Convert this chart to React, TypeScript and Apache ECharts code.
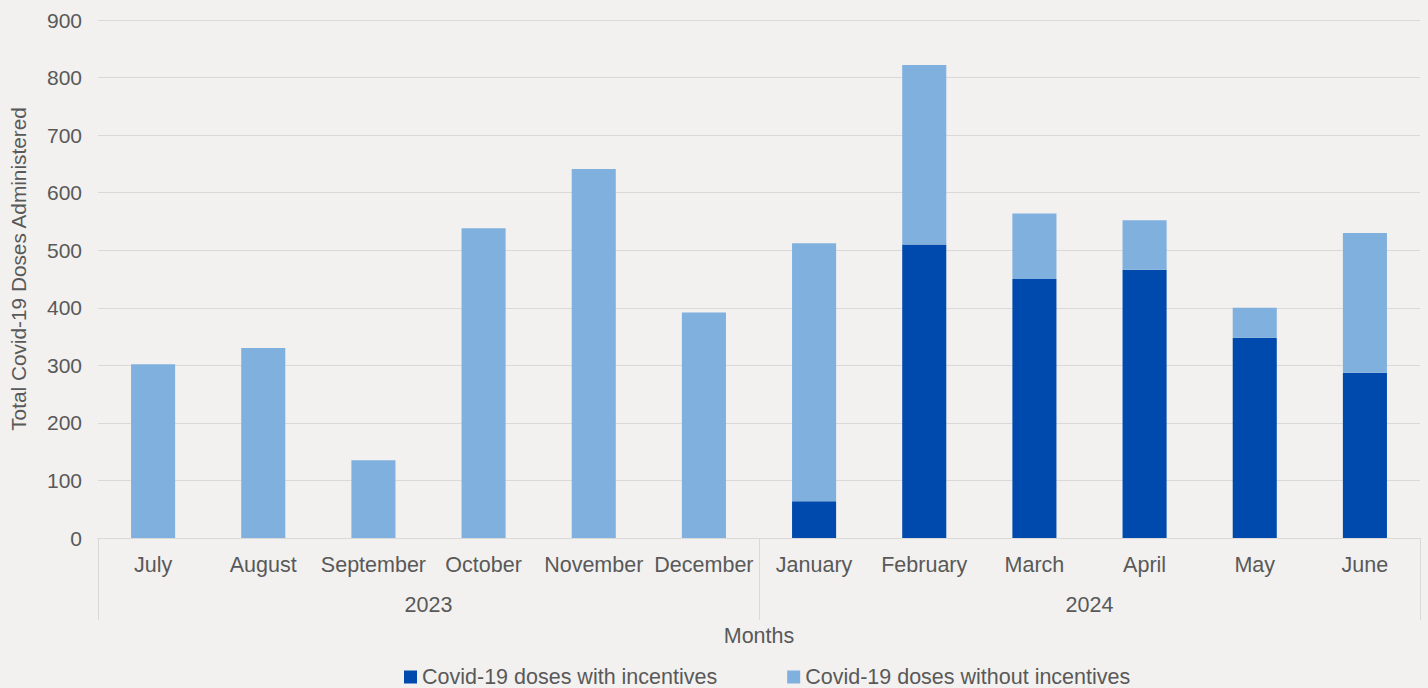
import React, { useEffect, useRef } from "react";
import * as echarts from "echarts";

const months = ["July", "August", "September", "October", "November", "December", "January", "February", "March", "April", "May", "June"];
const years = ["2023", "2024"];
const withIncentives = [0, 0, 0, 0, 0, 0, 64, 510, 450, 466, 348, 287];
const withoutIncentives = [302, 330, 135, 538, 641, 392, 448, 312, 114, 86, 52, 243];
const yTicks = { min: 0, max: 900, interval: 100 };

const FONT = "'Liberation Sans', Arial, sans-serif";
const TEXT = "#595959";
const GRID = "#d9d9d9";
const FS = 21.5;

export default function App() {
  const ref = useRef<HTMLDivElement>(null);
  useEffect(() => {
    if (!ref.current) return;
    const chart = echarts.init(ref.current, undefined, { renderer: "svg" });
    chart.setOption({
      animation: false,
      backgroundColor: "#f2f1ef",
      textStyle: { fontFamily: FONT, color: TEXT },
      grid: { left: 98, right: 8, top: 20, bottom: 150, containLabel: false },
      legend: {
        top: 661,
        left: 399,
        icon: "rect",
        itemWidth: 13,
        itemHeight: 13,
        itemGap: 70,
        textStyle: { fontFamily: FONT, fontSize: FS, color: TEXT },
        data: ["Covid-19 doses with incentives", "Covid-19 doses without incentives"],
      },
      xAxis: [
        {
          type: "category",
          data: months,
          axisLine: { show: true, lineStyle: { color: GRID } },
          axisTick: { show: false },
          axisLabel: { fontFamily: FONT, fontSize: FS, color: TEXT, margin: 16, interval: 0 },
        },
        {
          type: "category",
          data: years,
          position: "bottom",
          axisLine: { show: true, lineStyle: { color: GRID } },
          axisTick: { show: true, length: 82, lineStyle: { color: GRID } },
          axisLabel: { fontFamily: FONT, fontSize: FS, color: TEXT, margin: 56 },
          name: "Months",
          nameLocation: "middle",
          nameGap: 87,
          nameTextStyle: { fontFamily: FONT, fontSize: FS, color: TEXT },
        },
      ],
      yAxis: {
        type: "value",
        ...yTicks,
        axisLine: { show: false },
        axisTick: { show: false },
        splitLine: { lineStyle: { color: GRID } },
        axisLabel: { fontFamily: FONT, fontSize: 21, color: TEXT, margin: 16 },
        name: "Total Covid-19 Doses Administered",
        nameLocation: "middle",
        nameRotate: 90,
        nameGap: 69,
        nameTextStyle: { fontFamily: FONT, fontSize: 20.8, color: TEXT, padding: [0, 0, 0, 20] },
      },
      series: [
        {
          name: "Covid-19 doses with incentives",
          type: "bar",
          stack: "total",
          xAxisIndex: 0,
          barWidth: "40%",
          data: withIncentives,
          itemStyle: { color: "#004aad" },
        },
        {
          name: "Covid-19 doses without incentives",
          type: "bar",
          stack: "total",
          xAxisIndex: 0,
          barWidth: "40%",
          data: withoutIncentives,
          itemStyle: { color: "#7fb0de" },
        },
      ],
    });
    return () => chart.dispose();
  }, []);
  return <div ref={ref} style={{ position: "fixed", left: 0, top: 0, width: 1428, height: 688 }} />;
}
